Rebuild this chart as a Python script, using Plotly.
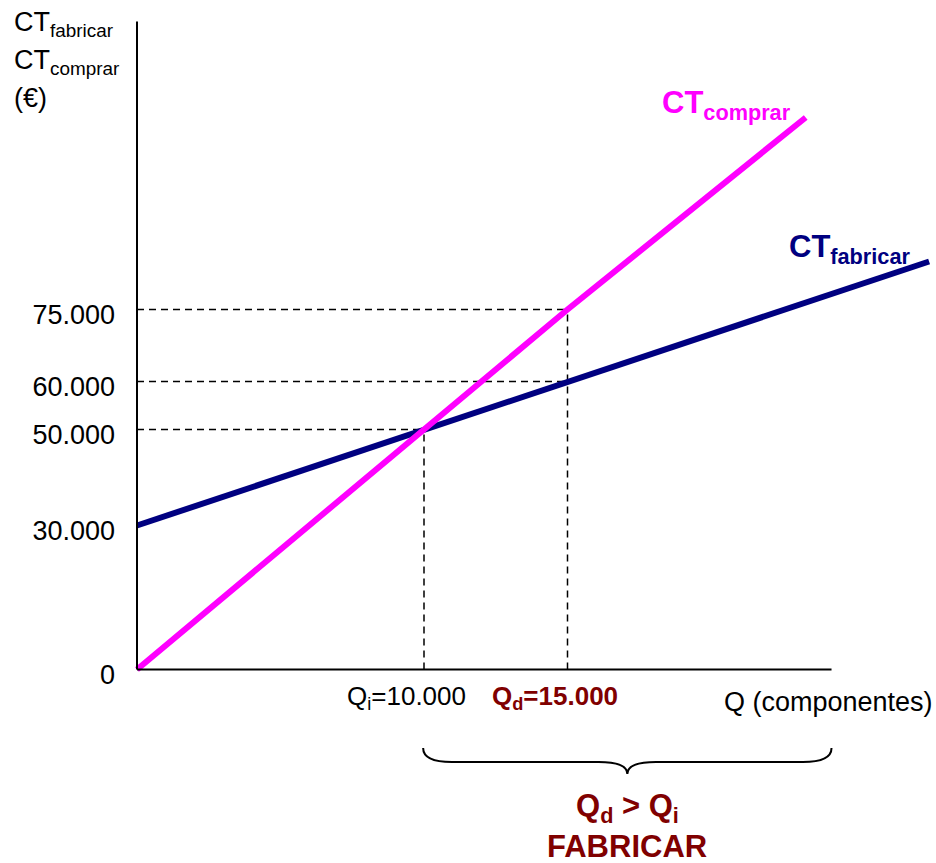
import plotly.graph_objects as go

# --- data -------------------------------------------------------------
# Total cost of buying the component (CT comprar) and of making it (CT fabricar)
comprar_q = [0, 10000, 15000, 23300]
comprar_ct = [0, 50000, 75000, 115000]
fabricar_q = [0, 10000, 15000, 27600]
fabricar_ct = [30000, 50000, 60000, 85000]

# key quantities and cost levels marked on the axes
q_indif = 10000          # indifference quantity
q_demand = 15000         # demanded quantity
ct_at_indif = 50000
ct_fab_at_demand = 60000
ct_com_at_demand = 75000

y_tick_vals = [0, 30000, 50000, 60000, 75000]
y_tick_text = ["0", "30.000", "50.000", "60.000", "75.000"]

x_axis_end = 24200
y_axis_top = 135000

# --- styling ----------------------------------------------------------
FONT = "Liberation Sans, Arial, sans-serif"
MAGENTA = "#FF00FF"
NAVY = "#000080"
DARKRED = "#800000"

W, H = 936, 863
ml = 130
x_range = [-244, 27840]
y_range = [-40312, 139479]

fig = go.Figure()

fig.add_trace(go.Scatter(x=fabricar_q, y=fabricar_ct, mode="lines",
                         line=dict(color=NAVY, width=6), hoverinfo="skip",
                         showlegend=False))
fig.add_trace(go.Scatter(x=comprar_q, y=comprar_ct, mode="lines",
                         line=dict(color=MAGENTA, width=6), hoverinfo="skip",
                         showlegend=False))

shapes = []
dash = dict(color="black", width=1.5, dash="7px,5px")
# horizontal guides
for yv, xe in [(ct_com_at_demand, q_demand), (ct_fab_at_demand, q_demand),
               (ct_at_indif, q_indif)]:
    shapes.append(dict(type="line", x0=0, x1=xe, y0=yv, y1=yv, line=dash,
                       layer="below"))
# vertical guides
for xv, ye in [(q_indif, ct_at_indif), (q_demand, ct_com_at_demand)]:
    shapes.append(dict(type="line", x0=xv, x1=xv, y0=0, y1=ye, line=dash,
                       layer="below"))
# axes
axis_line = dict(color="black", width=2)
shapes.append(dict(type="line", x0=0, x1=0, y0=0, y1=y_axis_top, line=axis_line))
shapes.append(dict(type="line", x0=0, x1=x_axis_end, y0=0, y1=0, line=axis_line))

# curly brace under the range Q > Qi
bx0, bx1 = 9970, x_axis_end
bxm = (bx0 + bx1) / 2
y_top, y_mid, y_tip = -16350, -19270, -21770
dx = 1000
brace = (f"M {bx0},{y_top} Q {bx0},{y_mid} {bx0+dx},{y_mid} "
         f"L {bxm-dx},{y_mid} Q {bxm},{y_mid} {bxm},{y_tip} "
         f"Q {bxm},{y_mid} {bxm+dx},{y_mid} "
         f"L {bx1-dx},{y_mid} Q {bx1},{y_mid} {bx1},{y_top}")
shapes.append(dict(type="path", path=brace, line=dict(color="black", width=2)))

fig.update_layout(shapes=shapes)

ann = []
# y-axis title, top left, one line per annotation
title_lines = ["CT<sub>fabricar</sub>", "CT<sub>comprar</sub>", "(€)"]
title_y = [0.9722, 0.9282, 0.8865]
for txt, yy in zip(title_lines, title_y):
    ann.append(dict(x=-0.1464, y=yy, xref="paper", yref="paper",
                    xanchor="left", yanchor="middle", showarrow=False,
                    text=txt, font=dict(family=FONT, size=27, color="black")))
ann.append(dict(x=18220, y=117600, xref="x", yref="y", xanchor="left",
                yanchor="middle", showarrow=False,
                text="<b>CT<sub>comprar</sub></b>",
                font=dict(family=FONT, size=31, color=MAGENTA)))
ann.append(dict(x=22650, y=87600, xref="x", yref="y", xanchor="left",
                yanchor="middle", showarrow=False,
                text="<b>CT<sub>fabricar</sub></b>",
                font=dict(family=FONT, size=31, color=NAVY)))
ann.append(dict(x=q_indif, y=0, xref="x", yref="y", xanchor="center",
                yanchor="middle", xshift=-18, yshift=-28, showarrow=False,
                text="Q<sub>i</sub>=10.000",
                font=dict(family=FONT, size=26, color="black")))
ann.append(dict(x=q_demand, y=0, xref="x", yref="y", xanchor="center",
                yanchor="middle", xshift=-13, yshift=-28, showarrow=False,
                text="<b>Q<sub>d</sub>=15.000</b>",
                font=dict(family=FONT, size=26, color=DARKRED)))
ann.append(dict(x=27800, y=0, xref="x", yref="y", xanchor="right",
                yanchor="middle", yshift=-32, showarrow=False,
                text="Q (componentes)",
                font=dict(family=FONT, size=27, color="black")))
# conclusion under the brace
ann.append(dict(x=bxm, y=-28800, xref="x", yref="y", xanchor="center",
                yanchor="middle", showarrow=False,
                text="<b>Q<sub>d</sub> > Q<sub>i</sub></b>",
                font=dict(family=FONT, size=31, color=DARKRED)))
ann.append(dict(x=bxm, y=-36900, xref="x", yref="y", xanchor="center",
                yanchor="middle", showarrow=False,
                text="<b>FABRICAR</b>",
                font=dict(family=FONT, size=31, color=DARKRED)))
fig.update_layout(annotations=ann)

fig.update_layout(
    width=W, height=H,
    margin=dict(l=ml, r=0, t=0, b=0, pad=0),
    paper_bgcolor="white", plot_bgcolor="white",
    xaxis=dict(range=x_range, visible=False, showgrid=False, zeroline=False),
    yaxis=dict(range=y_range, showgrid=False, zeroline=False, showline=False,
               tickmode="array", tickvals=y_tick_vals, ticktext=y_tick_text,
               ticks="", ticklabelstandoff=14, ticklabelshift=5,
               tickfont=dict(family=FONT, size=27, color="black")),
)

fig.write_html("out.html")
